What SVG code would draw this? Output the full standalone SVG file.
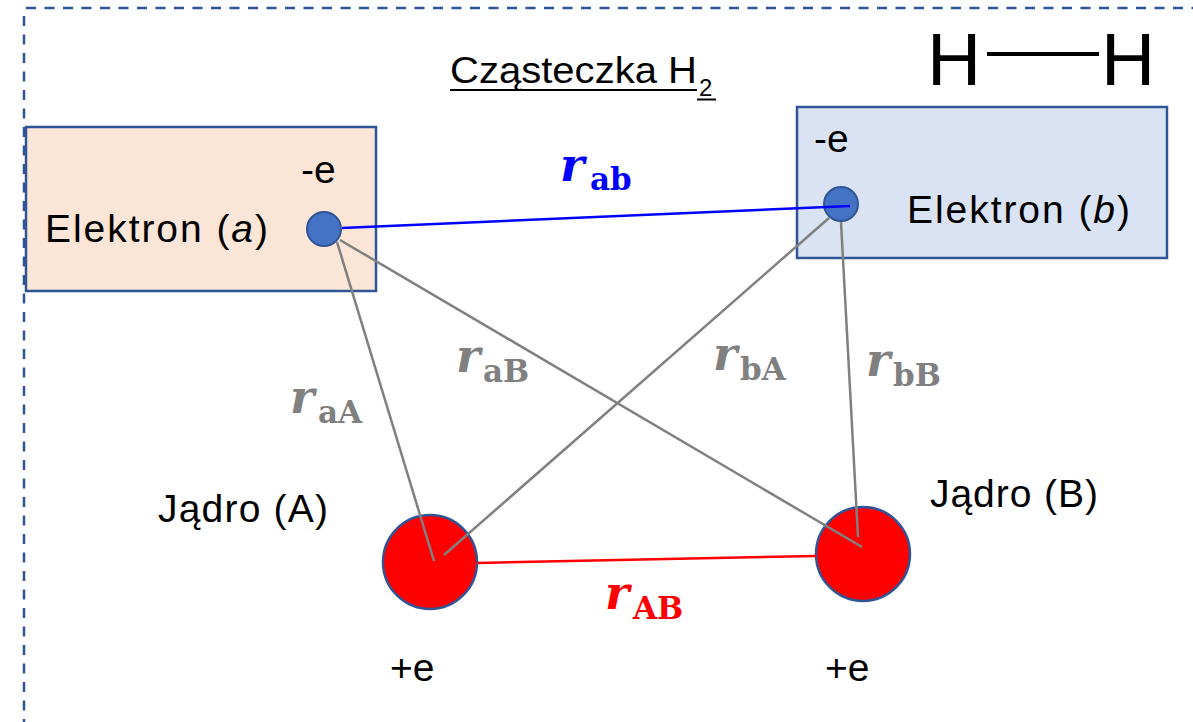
<svg xmlns="http://www.w3.org/2000/svg" width="1193" height="722" viewBox="0 0 1193 722">
<style>
.t{font-family:"Liberation Sans",Arial,sans-serif;fill:#000}
.lbl{font-size:39px}
.m{font-family:"DejaVu Serif","Liberation Serif",serif;font-weight:bold}
.mr{font-size:46px;font-style:italic}
.ms{font-size:31px}
.g{fill:#808080}
.gl{stroke:#808080;stroke-width:2.5;fill:none}
.el{fill:#4472c4;stroke:#2f5597;stroke-width:2}
.nu{fill:#ff0000;stroke:#2f5597;stroke-width:2.5}
.box{stroke:#2f5597;stroke-width:2.5}
.border{stroke:#2f5597;stroke-width:2.5;stroke-dasharray:10 8.5;fill:none}
</style>
<rect width="1193" height="722" fill="#ffffff"/>
<g id="frame">
<line class="border" x1="26" y1="8" x2="1193" y2="8"/>
<line class="border" x1="24" y1="16" x2="24" y2="722"/>
</g>
<g id="title">
<text class="t" x="450" y="83" font-size="36" textLength="247" lengthAdjust="spacingAndGlyphs">Cząsteczka H</text>
<text class="t" x="699" y="96" font-size="24">2</text>
<line x1="450" y1="90" x2="697" y2="90" stroke="#000" stroke-width="2"/>
<line x1="697" y1="99.5" x2="716" y2="99.5" stroke="#000" stroke-width="2"/>
</g>
<g id="formula">
<text class="t" x="927" y="85" font-size="75">H</text>
<line x1="987" y1="54" x2="1099" y2="54" stroke="#000" stroke-width="4"/>
<text class="t" x="1101" y="85" font-size="75">H</text>
</g>
<g id="electron-a">
<rect class="box" x="26" y="127" width="350" height="164" fill="#fbe5d6"/>
<text class="t lbl" x="301" y="183">-e</text>
<text class="t lbl" x="45" y="242" textLength="223">Elektron (<tspan font-style="italic">a</tspan>)</text>
</g>
<g id="electron-b">
<rect class="box" x="797" y="107" width="370" height="151" fill="#dae3f3"/>
<text class="t lbl" x="814" y="152">-e</text>
<text class="t lbl" x="907" y="223" textLength="223">Elektron (<tspan font-style="italic">b</tspan>)</text>
</g>
<g id="nucleus-A">
<circle class="nu" cx="430" cy="562" r="47"/>
<text class="t lbl" x="158" y="522" textLength="170">Jądro (A)</text>
<text class="t lbl" x="390" y="681">+e</text>
</g>
<g id="nucleus-B">
<circle class="nu" cx="863" cy="554" r="47"/>
<text class="t lbl" x="930" y="507" textLength="168">Jądro (B)</text>
<text class="t lbl" x="825" y="681">+e</text>
</g>
<g id="electron-dots">
<circle class="el" cx="324" cy="229" r="17"/>
<circle class="el" cx="841" cy="204" r="17"/>
</g>
<g id="connectors">
<line x1="342" y1="228" x2="850" y2="206" stroke="#0000ff" stroke-width="2.5"/>
<line class="gl" x1="337" y1="242" x2="434" y2="561"/>
<line class="gl" x1="340" y1="240" x2="862" y2="547"/>
<line class="gl" x1="829" y1="218" x2="444" y2="555"/>
<line class="gl" x1="841" y1="222" x2="858" y2="537"/>
<line x1="477" y1="563" x2="816" y2="556" stroke="#ff0000" stroke-width="2.5"/>
</g>
<g id="labels">
<text class="m" x="560" y="181" fill="#0000ff"><tspan class="mr">r</tspan><tspan class="ms" x="590" y="190">ab</tspan></text>
<text class="m g" x="290" y="413"><tspan class="mr">r</tspan><tspan class="ms" x="318" y="423">aA</tspan></text>
<text class="m g" x="456" y="372"><tspan class="mr">r</tspan><tspan class="ms" x="483" y="382">aB</tspan></text>
<text class="m g" x="713" y="370"><tspan class="mr">r</tspan><tspan class="ms" x="740" y="380">bA</tspan></text>
<text class="m g" x="866" y="376"><tspan class="mr">r</tspan><tspan class="ms" x="893" y="386">bB</tspan></text>
<text class="m" x="605" y="609" fill="#ff0000"><tspan class="mr">r</tspan><tspan class="ms" x="633" y="619">AB</tspan></text>
</g>
</svg>
